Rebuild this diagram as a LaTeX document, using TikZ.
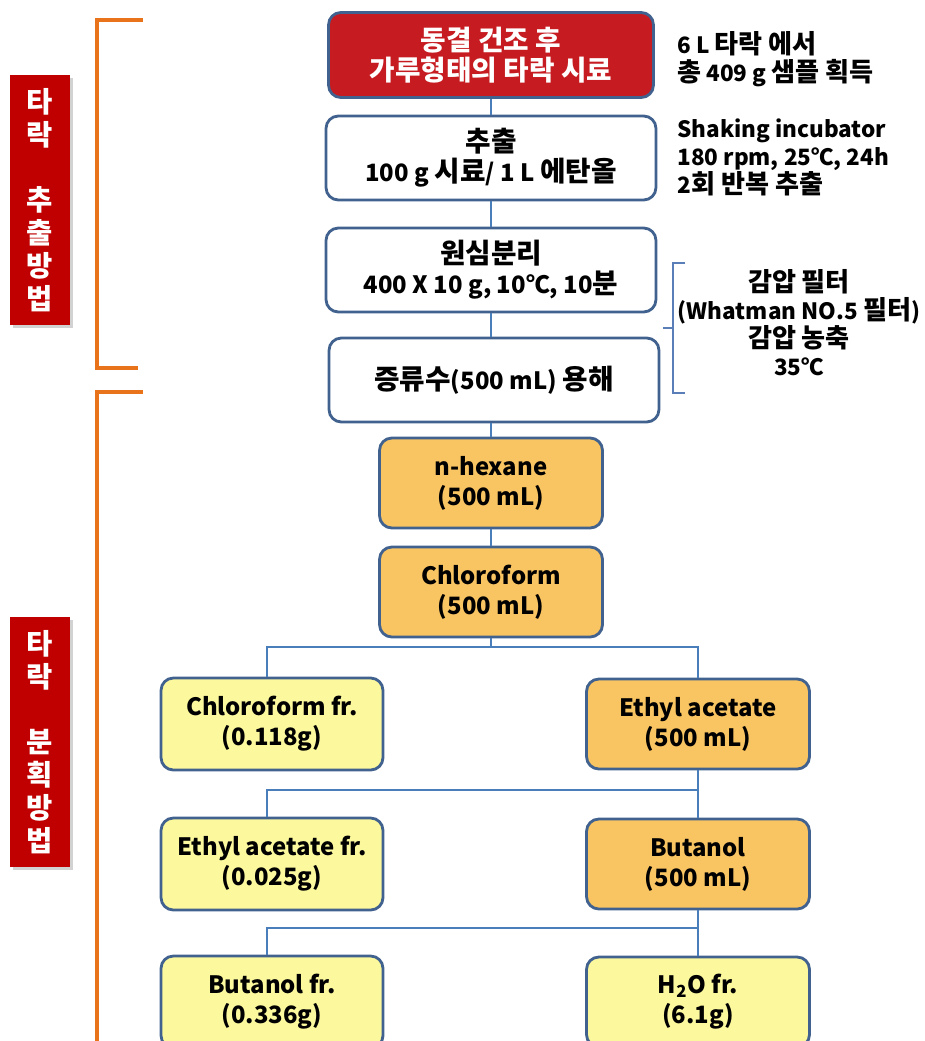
\documentclass[tikz,border=0pt]{standalone}
\usepackage{fontspec}
\setmainfont{Noto Sans CJK KR}
\newfontfamily\kr{Noto Sans CJK KR}[Scale=1.16]
\usepackage{xcolor}
\usetikzlibrary{shadows}

\definecolor{dryred}{HTML}{C61B20}
\definecolor{tagred}{HTML}{C00000}
\definecolor{boxblue}{HTML}{41628E}
\definecolor{linkblue}{HTML}{4A7EBB}
\definecolor{braceblue}{HTML}{5A7FB8}
\definecolor{solvorange}{HTML}{F9C462}
\definecolor{fracyellow}{HTML}{FCF89E}
\definecolor{bracketorange}{HTML}{E8731A}

\begin{document}
\begin{tikzpicture}[
    x=0.02cm, y=-0.02cm,
    base/.style={rounded corners=7pt, line width=1.6pt, draw=boxblue,
                 align=center, inner sep=2pt,
                 font=\fontsize{13.6}{17}\selectfont\bfseries},
    dry/.style={base, fill=dryred, text=white,
                minimum width=6.5cm, minimum height=1.7cm},
    proc/.style={base, fill=white, minimum width=6.6cm, minimum height=1.68cm},
    solv/.style={base, fill=solvorange, minimum width=4.46cm, minimum height=1.8cm},
    frac/.style={base, fill=fracyellow, minimum width=4.44cm, minimum height=1.84cm},
    line/.style={draw=linkblue, line width=1.1pt},
    tag/.style={fill=tagred, text=white, align=center, inner sep=0pt,
                minimum width=1.2cm, minimum height=5cm,
                font=\fontsize{14}{18.7}\selectfont\bfseries\kr,
                drop shadow={shadow xshift=1.8pt, shadow yshift=-1.8pt,
                             fill=black!35}},
    note/.style={align=left, anchor=west, inner sep=0pt,
                 font=\fontsize{12.8}{15.9}\selectfont\bfseries},
    bracket/.style={draw=bracketorange, line width=1.8pt},
    brace/.style={draw=braceblue, line width=1.5pt},
  ]
  \useasboundingbox (0,0) rectangle (925,1041);
  \clip (0,0) rectangle (925,1041);
  % ---- extraction ----
  \node[dry]  (dry) at (491,55)  {{\kr 동결 건조 후}\\{\kr 가루형태의 타락 시료}};
  \node[proc] (ext) at (491,158) {{\kr 추출}\\100 g {\kr 시료}/ 1 L {\kr 에탄올}};
  \node[proc] (cen) at (491,270) {{\kr 원심분리}\\400 X 10 g, 10℃, 10{\kr 분}};
  \node[proc] (dis) at (494,380) {{\kr 증류수}(500 mL) {\kr 용해}};
  % ---- fractionation ----
  \node[solv] (hex)   at (491,483)  {n-hexane\\(500 mL)};
  \node[solv] (chl)   at (491,592)  {Chloroform\\(500 mL)};
  \node[frac] (chlfr) at (272,724)  {Chloroform fr.\\(0.118g)};
  \node[solv] (eta)   at (698,724)  {Ethyl acetate\\(500 mL)};
  \node[frac] (etafr) at (272,864)  {Ethyl acetate fr.\\(0.025g)};
  \node[solv] (but)   at (698,864)  {Butanol\\(500 mL)};
  \node[frac] (butfr) at (272,1002) {Butanol fr.\\(0.336g)};
  \node[solv, fill=fracyellow] (water) at (698,1002) {H\textsubscript{2}O fr.\\(6.1g)};
  % ---- side notes ----
  \node[note] (n1) at (677,59)  {6 L {\kr 타락 에서}\\{\kr 총} 409 g {\kr 샘플 획득}};
  \node[note] (n2) at (677,157) {Shaking incubator\\180 rpm, 25℃, 24h\\2{\kr 회 반복 추출}};
  \node[note, align=center, anchor=center] (n3) at (799,323)
      {{\kr 감압 필터}\\(Whatman NO.5 {\kr 필터})\\{\kr 감압 농축}\\35℃};
  % ---- section tags ----
  \node[tag] (tagext) at (40,200) {타\\락\\ \\추\\출\\방\\법};
  \node[tag] (tagfr)  at (40,742) {타\\락\\ \\분\\획\\방\\법};
  % ---- connectors ----
  \coordinate (j1) at (491,647);
  \coordinate (j2) at (698,790);
  \coordinate (j3) at (698,928);
  \draw[line] (dry) -- (ext);
  \draw[line] (ext) -- (cen);
  \draw[line] (cen.south) -- (cen.south |- dis.north);
  \draw[line] (dis.south -| hex.north) -- (hex);
  \draw[line] (hex) -- (chl);
  \draw[line] (chl) -- (j1);
  \draw[line] ([xshift=-0.1cm]chlfr.north) |- (j1) -| (eta.north);
  \draw[line] (eta) -- (j2) -- (but);
  \draw[line] ([xshift=-0.1cm]etafr.north) |- (j2);
  \draw[line] (but) -- (j3) -- (water);
  \draw[line] ([xshift=-0.1cm]butfr.north) |- (j3);
  % ---- brackets ----
  \draw[bracket] (143,20) -- (97,20) -- (97,368) -- (138,368);
  \draw[bracket] (143,392) -- (97,392) -- (97,1041);
  \draw[brace] (685,263) -- (673,263) -- (673,393) -- (685,393);
  \draw[brace] (673,328) -- (663,328);
\end{tikzpicture}
\end{document}
